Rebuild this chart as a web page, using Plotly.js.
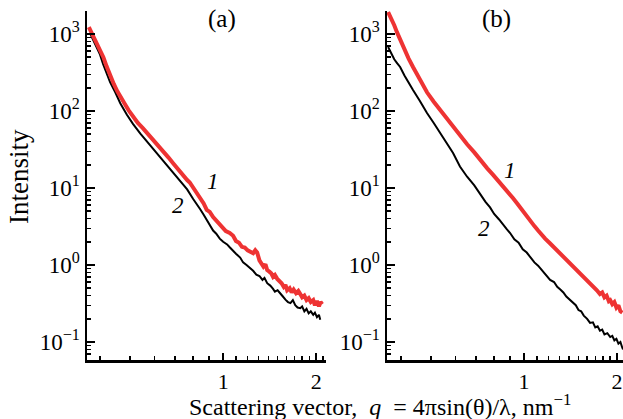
<!DOCTYPE html>
<html>
<head>
<meta charset="utf-8">
<script src="https://cdn.plot.ly/plotly-3.0.1.min.js"></script>
<style>html,body{margin:0;padding:0;background:#fff}#chart{width:623px;height:419px}</style>
</head>
<body>
<div id="chart"></div>
<script>
// Panel (a), curve 1 (red)
const qA1 = [0.368,0.375,0.383,0.391,0.40,0.41,0.42,0.431,0.443,0.455,0.465,0.48,0.495,0.511,0.53,0.55,0.568,0.59,0.61,0.625,0.645,0.665,0.689,0.71,0.735,0.765,0.78,0.80,0.82,0.843,0.865,0.885,0.905,0.928,0.95,0.975,1.0,1.02,1.05,1.077,1.10,1.125,1.15,1.175,1.2,1.225,1.25,1.27,1.288,1.31,1.33,1.35,1.37,1.388,1.41,1.43,1.45,1.47,1.496,1.52,1.545,1.57,1.59,1.61,1.64,1.665,1.69,1.72,1.75,1.775,1.80,1.83,1.86,1.89,1.92,1.955,1.98,2.01,2.04,2.065,2.09];
const iA1 = [1230,1050,880,740,640,500,380,290,225,180,152,125,102,85,70,60,52,44,38,34,29,25,21,18,15.5,12.7,11.8,10.2,8.6,7.2,6.3,5.2,4.9,4.2,3.8,3.3,3.05,2.75,2.6,2.4,2.05,1.95,1.72,1.68,1.55,1.5,1.42,1.55,1.45,1.15,1.05,0.95,1.02,0.86,0.82,0.78,0.70,0.74,0.66,0.62,0.58,0.52,0.55,0.47,0.50,0.44,0.48,0.43,0.46,0.42,0.38,0.40,0.35,0.37,0.33,0.35,0.30,0.34,0.29,0.33,0.31];
// Panel (a), curve 2 (black)
const qA2 = [0.371,0.38,0.391,0.40,0.409,0.42,0.431,0.448,0.465,0.488,0.511,0.54,0.568,0.595,0.625,0.655,0.689,0.725,0.765,0.80,0.82,0.843,0.865,0.885,0.905,0.928,0.95,0.975,1.0,1.03,1.05,1.077,1.10,1.135,1.16,1.19,1.22,1.25,1.28,1.31,1.34,1.36,1.388,1.42,1.45,1.47,1.50,1.53,1.56,1.59,1.62,1.65,1.68,1.71,1.74,1.775,1.80,1.83,1.86,1.89,1.92,1.955,1.98,2.01,2.04,2.06];
const iA2 = [1030,850,680,540,410,305,238,175,126,90,68,51,40,32,25.5,20,15.5,12.2,9.6,7.2,6.3,5.3,4.5,3.8,3.25,2.8,2.55,2.2,2.0,1.85,1.7,1.52,1.4,1.25,1.08,1.0,0.92,0.84,0.75,0.72,0.64,0.68,0.58,0.54,0.49,0.45,0.47,0.42,0.39,0.355,0.33,0.32,0.35,0.30,0.28,0.275,0.29,0.25,0.27,0.235,0.25,0.225,0.24,0.21,0.225,0.195];
// Panel (b), curve 1 (red)
const qB1 = [0.363,0.372,0.38,0.388,0.397,0.41,0.423,0.437,0.46,0.485,0.51,0.535,0.56,0.589,0.62,0.654,0.69,0.721,0.76,0.794,0.84,0.88,0.92,0.95,0.97,1.0,1.03,1.05,1.08,1.11,1.14,1.17,1.21,1.24,1.27,1.30,1.33,1.36,1.39,1.41,1.44,1.47,1.50,1.52,1.55,1.58,1.61,1.635,1.66,1.69,1.72,1.76,1.79,1.82,1.85,1.88,1.90,1.93,1.96,1.99,2.02,2.05,2.08];
const iB1 = [1930,1600,1300,1050,836,620,480,373,250,175,132,103,80,62,47,37,29,23,18,14.8,11.5,9.2,7.4,6.3,5.6,4.8,4.1,3.6,3.2,2.8,2.45,2.2,1.93,1.75,1.6,1.42,1.3,1.22,1.1,1.06,0.95,0.88,0.82,0.76,0.72,0.66,0.63,0.58,0.55,0.50,0.47,0.42,0.44,0.38,0.40,0.34,0.35,0.31,0.33,0.28,0.30,0.25,0.24];
// Panel (b), curve 2 (black)
const qB2 = [0.363,0.372,0.38,0.388,0.397,0.41,0.423,0.437,0.46,0.485,0.51,0.535,0.56,0.589,0.62,0.654,0.69,0.721,0.75,0.776,0.80,0.83,0.86,0.88,0.901,0.93,0.96,0.99,1.02,1.046,1.08,1.11,1.14,1.17,1.214,1.25,1.28,1.31,1.34,1.37,1.41,1.44,1.47,1.50,1.53,1.56,1.60,1.635,1.67,1.70,1.73,1.76,1.79,1.82,1.86,1.90,1.93,1.96,1.99,2.02,2.05,2.075,2.09];
const iB2 = [678,560,470,420,373,290,230,187,135,94,70,52,38,28.5,19,14,10.8,8.2,6.6,5.6,4.6,3.9,3.2,2.9,2.6,2.15,1.95,1.6,1.45,1.27,1.08,0.98,0.86,0.78,0.64,0.60,0.52,0.48,0.44,0.39,0.35,0.32,0.30,0.26,0.25,0.22,0.20,0.177,0.18,0.155,0.16,0.14,0.145,0.125,0.13,0.116,0.12,0.105,0.11,0.095,0.10,0.086,0.08];

const yTickVals = [0.1, 1, 10, 100, 1000];
const yTickText = ['10<sup>−1</sup>', '10<sup>0</sup>', '10<sup>1</sup>', '10<sup>2</sup>', '10<sup>3</sup>'];
const xTickVals = [1, 2];
const xTickText = ['1', '2'];
const panelTitles = ['(a)', '(b)'];
const curveLabels = ['1', '2'];

const RED = '#ee3333';
const FONT = "'Liberation Serif', serif";
const W = 623, H = 419;

const yMinor = [];
for (let e = -2; e <= 3; e++) for (let k = 2; k <= 9; k++) yMinor.push(k * Math.pow(10, e));
const xMinor = [];
for (let k = 3; k <= 9; k++) xMinor.push(k / 10);
for (let k = 11; k <= 22; k++) xMinor.push(k / 10);

const px = v => v / W, py = v => 1 - v / H;

function xAx(d0, d1, r0, r1, anchor) {
  return {
    type: 'log', domain: [px(d0), px(d1)], range: [Math.log10(r0), Math.log10(r1)],
    anchor: anchor, showline: true, linecolor: '#000', linewidth: 2.5, mirror: false,
    showgrid: false, zeroline: false, ticks: 'inside', ticklen: 7, tickwidth: 2, tickcolor: '#000',
    tickmode: 'array', tickvals: xTickVals, ticktext: xTickText, ticklabeloverflow: 'allow',
    tickfont: {family: FONT, size: 22, color: '#000'},
    minor: {ticks: 'inside', tickmode: 'array', tickvals: xMinor, ticklen: 4, tickwidth: 1.5, tickcolor: '#000', showgrid: false}
  };
}
function yAx(anchor) {
  return {
    type: 'log', domain: [py(360), py(11)], range: [-1.234, 3.299],
    anchor: anchor, showline: true, linecolor: '#000', linewidth: 2.5,
    showgrid: false, zeroline: false, ticks: 'inside', ticklen: 8, tickwidth: 2, tickcolor: '#000',
    tickmode: 'array', tickvals: yTickVals, ticktext: yTickText,
    tickfont: {family: FONT, size: 23, color: '#000'},
    minor: {ticks: 'inside', tickmode: 'array', tickvals: yMinor, ticklen: 4, tickwidth: 1.5, tickcolor: '#000', showgrid: false}
  };
}

const traces = [
  {x: qA2, y: iA2, xaxis: 'x', yaxis: 'y', mode: 'lines', line: {color: '#000', width: 2}},
  {x: qA1, y: iA1, xaxis: 'x', yaxis: 'y', mode: 'lines', line: {color: RED, width: 4}},
  {x: qB2, y: iB2, xaxis: 'x2', yaxis: 'y2', mode: 'lines', line: {color: '#000', width: 2}},
  {x: qB1, y: iB1, xaxis: 'x2', yaxis: 'y2', mode: 'lines', line: {color: RED, width: 4}}
];

const ann = [];
function lab(text, xr, yr, xv, yv) {
  ann.push({text: '<i>' + text + '</i>', xref: xr, yref: yr, x: Math.log10(xv), y: Math.log10(yv),
    xanchor: 'center', yanchor: 'middle', showarrow: false, font: {family: FONT, size: 23, color: '#000'}});
}
function note(text, x, y, size, angle) {
  ann.push({text: text, xref: 'paper', yref: 'paper', x: px(x), y: py(y), xanchor: 'center', yanchor: 'middle',
    textangle: angle || 0, showarrow: false, font: {family: FONT, size: size, color: '#000'}});
}
lab(curveLabels[0], 'x', 'y', 0.93, 12.3);
lab(curveLabels[1], 'x', 'y', 0.715, 6.0);
lab(curveLabels[0], 'x2', 'y2', 0.90, 17);
lab(curveLabels[1], 'x2', 'y2', 0.743, 3.0);
note(panelTitles[0], 222, 19, 25);
note(panelTitles[1], 496, 19, 25);
note('Intensity', 19, 177, 27, -90);
note('Scattering vector,\u00A0\u00A0<i>q</i>\u00A0\u00A0= 4πsin(θ)/λ, nm<sup>−1</sup>', 380, 405, 24);

const layout = {
  width: W, height: H, margin: {l: 0, r: 0, t: 0, b: 0},
  paper_bgcolor: '#fff', plot_bgcolor: '#fff', showlegend: false,
  xaxis: xAx(87, 326, 0.363, 2.15, 'y'),
  yaxis: yAx('x'),
  xaxis2: xAx(387, 623, 0.36, 2.09, 'y2'),
  yaxis2: yAx('x2'),
  annotations: ann
};

Plotly.newPlot('chart', traces, layout, {staticPlot: true, displayModeBar: false});
</script>
</body>
</html>
